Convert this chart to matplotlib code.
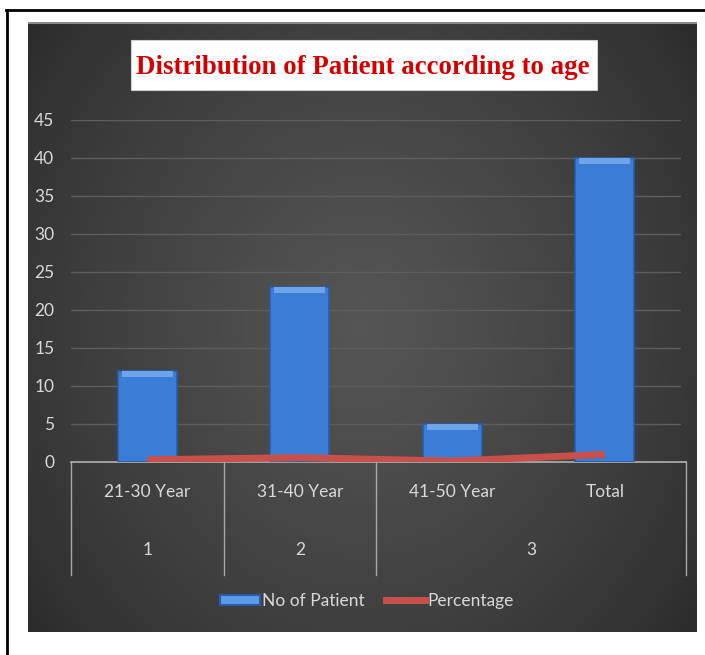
import numpy as np
import matplotlib
matplotlib.use("Agg")
import matplotlib.pyplot as plt
import matplotlib.transforms as mtransforms
from matplotlib.patches import Rectangle
from matplotlib.lines import Line2D

# ---- data ----
age_groups = ["21-30 Year", "31-40 Year", "41-50 Year", "Total"]
group_ids = ["1", "2", "3"]
group_spans = [(0, 0), (1, 1), (2, 3)]          # category index ranges per group id
no_of_patient = [12, 23, 5, 40]
percentage = [0.30, 0.575, 0.125, 1.00]
y_ticks = [0, 5, 10, 15, 20, 25, 30, 35, 40, 45]
title = "Distribution of Patient according to age"

TXT = "#d9d9d9"
NARROW = ["Lato", "DejaVu Sans"]
FS = 12.5

fig = plt.figure(figsize=(7.05, 6.55), dpi=100)
fig.patch.set_facecolor("white")
W, H = 705, 655

def fx(px):
    return px / W

def fy(py):
    return 1 - py / H

# dark panel with a soft radial shading
bg = fig.add_axes([fx(28), fy(632), fx(697) - fx(28), fy(22) - fy(632)])
yy, xx = np.mgrid[0:1:300j, 0:1:300j]
r = np.sqrt(((xx - 0.5) / 0.62) ** 2 + ((yy - 0.5) / 0.8) ** 2)
shade = np.clip(1 - r, 0, 1) ** 0.8
lo = np.array([0x2c, 0x2c, 0x2c]) / 255
hi = np.array([0x56, 0x56, 0x56]) / 255
img = lo + (hi - lo) * shade[..., None]
bg.imshow(img, extent=[0, 1, 0, 1], aspect="auto", origin="lower")
bg.plot([0, 1], [0.998, 0.998], color="#8a8a8a", lw=1.5)
bg.set_xlim(0, 1)
bg.set_ylim(0, 1)
bg.axis("off")

# frame lines around the figure
fig.add_artist(Line2D([fx(6), 1], [fy(10), fy(10)], color="black", lw=2))
fig.add_artist(Line2D([fx(7), fx(7)], [0, fy(10)], color="black", lw=2))

# main plot area
ax = fig.add_axes([fx(71), fy(462), fx(681) - fx(71), fy(120) - fy(462)])
ax.set_facecolor("none")
x = np.arange(len(age_groups))
bw = 0.39

ax.bar(x, no_of_patient, width=bw, color="#3b7dd6", edgecolor="#2a5da6",
       linewidth=1.2, zorder=3)
# light bevel on top of each bar
top_h = 0.8
ax.bar(x, [top_h] * len(x), bottom=[v - top_h for v in no_of_patient],
       width=bw * 0.86, color="#6ea4ea", linewidth=0, zorder=4)

ax.plot(x, percentage, color="#c9504a", lw=5, solid_capstyle="butt", zorder=5)

ax.set_xlim(-0.5, len(age_groups) - 0.5)
ax.set_ylim(0, 45)
ax.set_yticks(y_ticks)
ax.yaxis.grid(True, color="#5e5e5e", lw=1)
ax.set_axisbelow(True)
ax.tick_params(axis="y", length=0, pad=12, labelcolor=TXT, labelsize=FS)
for lab in ax.get_yticklabels():
    lab.set_family(NARROW)
ax.set_xticks([])
for s in ax.spines.values():
    s.set_visible(False)

# multi-level category axis drawn as a table below the bars
trans = mtransforms.blended_transform_factory(ax.transData, ax.transAxes)
table_bottom = -0.33
ax.plot([-0.5, 3.53], [0, 0], transform=trans, color="#a8a8a8", lw=1.3,
        clip_on=False, zorder=2)
for b in [-0.5, 0.5, 1.5, 3.53]:
    ax.plot([b, b], [0, table_bottom], transform=trans, color="#a8a8a8",
            lw=1.0, clip_on=False)
for i, lab in enumerate(age_groups):
    ax.text(i, -0.088, lab, transform=trans, ha="center", va="center",
            color=TXT, fontsize=FS, family=NARROW)
for gid, (a, b) in zip(group_ids, group_spans):
    ax.text((a + b) / 2 + (0.02 if b > a else 0), -0.257, gid, transform=trans,
            ha="center", va="center", color=TXT, fontsize=FS, family=NARROW)

# title on a white box
fig.add_artist(Rectangle((fx(131), fy(90)), fx(597) - fx(131), fy(40) - fy(90),
                         transform=fig.transFigure, facecolor="white",
                         edgecolor="#cfcfcf", lw=0.8))
fig.text(fx(363), fy(67), title, ha="center", va="center", color="#d40000",
         fontsize=19.4, fontweight="bold", family="Liberation Serif")

# legend
handles = [
    Rectangle((0, 0), 1, 1, facecolor="#5b9bea", edgecolor="#2a5da6", lw=1.5),
    Line2D([0], [0], color="#c9504a", lw=5),
]
leg = fig.legend(handles, ["No of Patient", "Percentage"],
                 loc="center", bbox_to_anchor=(fx(367), fy(601)), ncol=2,
                 frameon=False, handlelength=2.3, handleheight=0.5,
                 handletextpad=0.1, columnspacing=1.2,
                 prop={"family": NARROW, "size": FS})
for t in leg.get_texts():
    t.set_color(TXT)

fig.savefig("out.png", dpi=100, facecolor="white")
